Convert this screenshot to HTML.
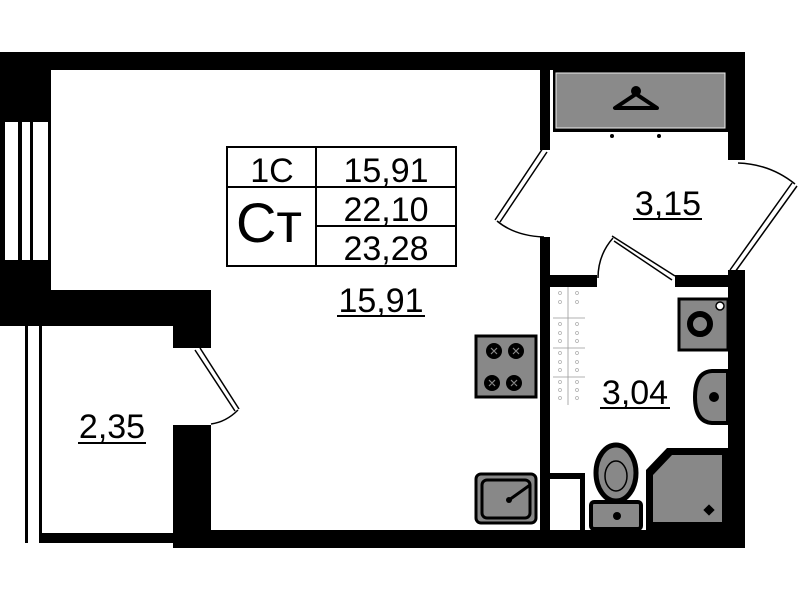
<!DOCTYPE html>
<html><head><style>html,body{margin:0;padding:0;background:#fff}svg{display:block}text{font-family:"Liberation Sans",sans-serif;fill:#000}</style></head><body>
<svg width="799" height="600" viewBox="0 0 799 600" xmlns="http://www.w3.org/2000/svg">
<rect width="799" height="600" fill="#fff"/>
<rect x="0" y="52" width="745" height="18" fill="#000"/>
<rect x="0" y="52" width="51" height="70" fill="#000"/>
<g fill="#000"><rect x="0" y="122" width="5" height="138"/><rect x="18" y="122" width="4" height="138"/><rect x="30" y="122" width="3" height="138"/><rect x="48" y="122" width="3" height="138"/></g>
<rect x="0" y="260" width="51" height="32" fill="#000"/>
<rect x="0" y="290" width="211" height="36" fill="#000"/>
<rect x="173" y="290" width="38" height="58" fill="#000"/>
<rect x="25" y="326" width="3" height="217" fill="#000"/>
<rect x="39" y="326" width="3" height="217" fill="#000"/>
<rect x="39" y="533" width="134" height="10" fill="#000"/>
<rect x="173" y="425" width="38" height="123" fill="#000"/>
<g stroke="#000" stroke-width="1.5" fill="none">
<line x1="195" y1="350" x2="235" y2="411"/><line x1="200" y1="348" x2="239" y2="409"/>
<path d="M238 410 Q226 422 211 424"/>
</g>
<rect x="173" y="530" width="572" height="18" fill="#000"/>
<rect x="540" y="70" width="10" height="80" fill="#000"/>
<rect x="540" y="237" width="10" height="295" fill="#000"/>
<rect x="728" y="52" width="17" height="108" fill="#000"/>
<rect x="728" y="270" width="17" height="278" fill="#000"/>
<g stroke="#000" stroke-width="1.5" fill="none">
<line x1="543" y1="148" x2="495" y2="220"/><line x1="547" y1="152" x2="500" y2="222"/>
<path d="M497 221 Q515 236 544 237"/>
<line x1="797" y1="186" x2="735" y2="272"/><line x1="792" y1="183" x2="730" y2="270"/>
<path d="M738 163 Q770 164 795 184"/>
<line x1="612" y1="236" x2="675" y2="276"/><line x1="614" y1="241" x2="672" y2="280"/>
<path d="M613 238 Q598 255 598 278"/>
</g>
<rect x="550" y="275" width="47" height="12" fill="#000"/>
<rect x="675" y="275" width="55" height="12" fill="#000"/>
<rect x="553" y="70" width="175" height="62" fill="#000"/>
<rect x="556" y="73" width="169" height="55" fill="#8a8a8a" stroke="#eee" stroke-width="1"/>
<g stroke="#000" stroke-width="4" fill="none" stroke-linejoin="round">
<circle cx="636" cy="91" r="3" fill="#000"/>
<path d="M636 94 L615 108 L657 108 Z"/>
</g>
<circle cx="612" cy="136" r="2" fill="#000"/><circle cx="659" cy="136" r="2" fill="#000"/>
<g stroke="#999" stroke-width="0.8" fill="none">
<line x1="568" y1="287" x2="568" y2="405"/><line x1="553" y1="318" x2="585" y2="318"/><line x1="553" y1="348" x2="585" y2="348"/><line x1="553" y1="377" x2="585" y2="377"/>
</g>
<g fill="none" stroke="#aaa" stroke-width="0.7">
<circle cx="560" cy="293" r="1.5"/><circle cx="577" cy="293" r="1.5"/><circle cx="560" cy="302" r="1.5"/><circle cx="577" cy="302" r="1.5"/>
<circle cx="560" cy="324" r="1.5"/><circle cx="577" cy="324" r="1.5"/><circle cx="560" cy="333" r="1.5"/><circle cx="577" cy="333" r="1.5"/><circle cx="560" cy="341" r="1.5"/><circle cx="577" cy="341" r="1.5"/>
<circle cx="560" cy="353" r="1.5"/><circle cx="577" cy="353" r="1.5"/><circle cx="560" cy="362" r="1.5"/><circle cx="577" cy="362" r="1.5"/><circle cx="560" cy="370" r="1.5"/><circle cx="577" cy="370" r="1.5"/>
<circle cx="560" cy="382" r="1.5"/><circle cx="577" cy="382" r="1.5"/><circle cx="560" cy="390" r="1.5"/><circle cx="577" cy="390" r="1.5"/><circle cx="560" cy="398" r="1.5"/><circle cx="577" cy="398" r="1.5"/>
</g>
<rect x="476" y="336" width="60" height="61" fill="#888" stroke="#000" stroke-width="3"/>
<g fill="#000"><circle cx="494" cy="351" r="8"/><circle cx="516" cy="351" r="8"/><circle cx="492" cy="383" r="8"/><circle cx="514" cy="383" r="8"/></g>
<g stroke="#888" stroke-width="1.2">
<path d="M491 348 l6 6 M497 348 l-6 6 M513 348 l6 6 M519 348 l-6 6 M489 380 l6 6 M495 380 l-6 6 M511 380 l6 6 M517 380 l-6 6"/>
</g>
<rect x="476" y="474" width="60" height="49" rx="5" fill="#888" stroke="#000" stroke-width="3"/>
<rect x="482" y="480" width="48" height="38" rx="5" fill="none" stroke="#000" stroke-width="3"/>
<line x1="509" y1="500" x2="530" y2="485" stroke="#000" stroke-width="3"/>
<circle cx="509" cy="500" r="3" fill="#000"/>
<rect x="550" y="473" width="35" height="6" fill="#000"/><rect x="580" y="473" width="5" height="58" fill="#000"/>
<rect x="679" y="299" width="49" height="51" fill="#888" stroke="#000" stroke-width="3"/>
<circle cx="700" cy="324" r="10" fill="#888" stroke="#000" stroke-width="6"/>
<circle cx="720" cy="306" r="4" fill="#fff" stroke="#000" stroke-width="1.5"/>
<path d="M728 371 L712 371 Q695 372 695 397 Q695 422 712 423 L728 423 Z" fill="#888" stroke="#000" stroke-width="4"/>
<circle cx="714" cy="397" r="5" fill="#000"/>
<ellipse cx="616" cy="473" rx="20" ry="28" fill="#888" stroke="#000" stroke-width="5"/>
<ellipse cx="616" cy="476" rx="11" ry="15" fill="#888" stroke="#000" stroke-width="1.5"/>
<rect x="591" y="502" width="50" height="27" rx="3" fill="#888" stroke="#000" stroke-width="4"/>
<circle cx="617" cy="516" r="4" fill="#000"/>
<path d="M667 448 L728 448 L728 530 L646 530 L646 470 Z" fill="#000"/>
<path d="M672 455 L722 455 L722 522 L653 522 L653 475 Z" fill="#888"/>
<rect x="705" y="506" width="8" height="8" fill="#000" transform="rotate(45 709 510)"/>
<g stroke="#000" stroke-width="2" fill="none">
<rect x="227" y="147" width="229" height="119"/>
<line x1="316" y1="147" x2="316" y2="266"/>
<line x1="227" y1="187" x2="456" y2="187"/>
<line x1="316" y1="226" x2="456" y2="226"/>
</g>
<text x="272" y="182" font-size="34" text-anchor="middle">1С</text>
<text x="269" y="242" font-size="56" text-anchor="middle">Ст</text>
<text x="386" y="182" font-size="34" text-anchor="middle">15,91</text>
<text x="386" y="221" font-size="34" text-anchor="middle">22,10</text>
<text x="386" y="260" font-size="34" text-anchor="middle">23,28</text>
<text x="381" y="312" font-size="34" text-anchor="middle">15,91</text><rect x="337" y="315" width="88" height="2" fill="#000"/>
<text x="668" y="215" font-size="34" text-anchor="middle">3,15</text><rect x="633" y="218" width="69" height="2" fill="#000"/>
<text x="635" y="404" font-size="34" text-anchor="middle">3,04</text><rect x="600" y="407" width="70" height="2" fill="#000"/>
<text x="112" y="438" font-size="34" text-anchor="middle">2,35</text><rect x="78" y="442" width="68" height="2" fill="#000"/>
</svg>
</body></html>
